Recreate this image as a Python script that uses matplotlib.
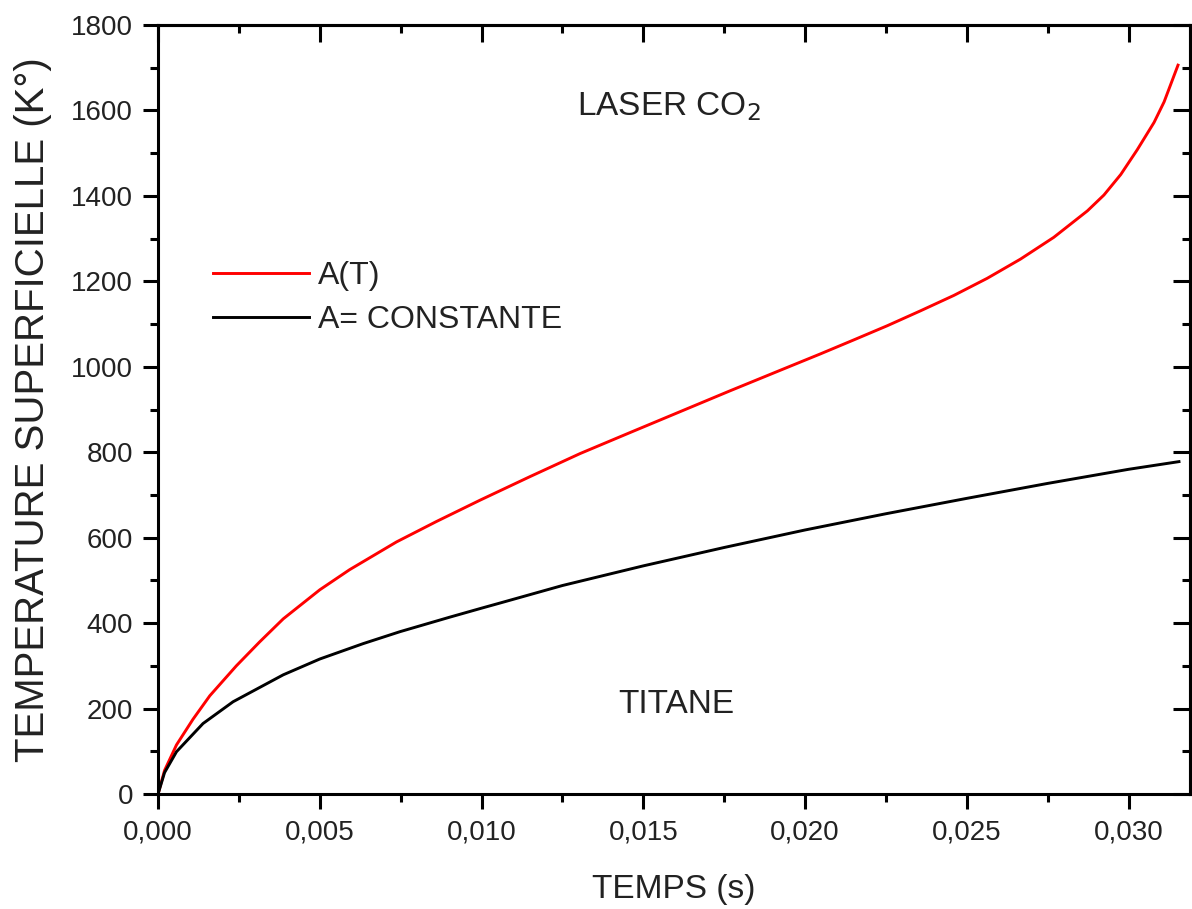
import numpy as np
import matplotlib
matplotlib.use('Agg')
from matplotlib import pyplot as plt
from matplotlib.ticker import MultipleLocator, FuncFormatter

# values
t_red = [0.0, 0.0002, 0.00057, 0.00108, 0.0016, 0.00242, 0.00314, 0.00387, 0.0050,
         0.00592, 0.00737, 0.00861, 0.00996, 0.0115, 0.01305, 0.01459, 0.01614,
         0.01769, 0.01924, 0.02047, 0.02151, 0.02254, 0.02357, 0.0246, 0.02563,
         0.02666, 0.02769, 0.02873, 0.02924, 0.02976, 0.03027, 0.03079, 0.0311, 0.03153]
T_red = [0, 55, 115, 175, 230, 300, 356, 410, 478,
         525, 590, 638, 688, 743, 797, 846, 895,
         944, 992, 1030, 1063, 1096, 1131, 1167, 1207,
         1252, 1303, 1365, 1402, 1450, 1508, 1572, 1620, 1706]

t_black = [0.0, 0.0002, 0.00057, 0.00139, 0.00232, 0.00387, 0.0050, 0.00634, 0.00748,
           0.00902, 0.010, 0.01057, 0.0125, 0.015, 0.0175, 0.020, 0.0225, 0.025,
           0.0275, 0.030, 0.03156]
T_black = [0, 50, 99, 165, 216, 279, 316, 352, 380,
           414, 435, 447, 488, 534, 577, 618, 656, 692,
           727, 760, 778]

plt.rcParams['font.family'] = ['Liberation Sans', 'DejaVu Sans']
txt = '#222222'

fig = plt.figure(figsize=(11.92, 9.09), dpi=100)
ax = fig.add_axes([0.1326, 0.1265, 0.8657, 0.846])

ax.plot(t_red, T_red, color='red', lw=2.1, label='A(T)')
ax.plot(t_black, T_black, color='black', lw=2.1, label='A= CONSTANTE')

ax.set_xlim(0, 0.0319)
ax.set_ylim(0, 1800)

ax.xaxis.set_major_locator(MultipleLocator(0.005))
ax.xaxis.set_minor_locator(MultipleLocator(0.0025))
ax.yaxis.set_major_locator(MultipleLocator(200))
ax.yaxis.set_minor_locator(MultipleLocator(100))
ax.xaxis.set_major_formatter(FuncFormatter(lambda v, p: ('%.3f' % v).replace('.', ',')))

for s in ax.spines.values():
    s.set_linewidth(2.2)
ax.tick_params(which='major', direction='out', length=11, width=2.2, labelsize=20,
               pad=7, labelcolor=txt)
ax.tick_params(which='minor', direction='out', length=6, width=2.2)

# mirrored ticks pointing inward on top and right
top = ax.secondary_xaxis('top')
top.xaxis.set_major_locator(MultipleLocator(0.005))
top.xaxis.set_minor_locator(MultipleLocator(0.0025))
top.tick_params(which='major', direction='in', length=12, width=2.2, labeltop=False)
top.tick_params(which='minor', direction='in', length=6, width=2.2)
right = ax.secondary_yaxis('right')
right.yaxis.set_major_locator(MultipleLocator(200))
right.yaxis.set_minor_locator(MultipleLocator(100))
right.tick_params(which='major', direction='in', length=12, width=2.2, labelright=False)
right.tick_params(which='minor', direction='in', length=6, width=2.2)
top.spines['top'].set_linewidth(2.2)
right.spines['right'].set_linewidth(2.2)

ax.set_xlabel('TEMPS (s)', fontsize=24, labelpad=21, color=txt)
ax.set_ylabel('TEMPERATURE SUPERFICIELLE (K°)', fontsize=29, labelpad=14, color=txt)

ax.text(0.0158, 1589, 'LASER CO$_2$', fontsize=24, ha='center', va='baseline', color=txt)
ax.text(0.01602, 190, 'TITANE', fontsize=24, ha='center', va='baseline', color=txt)

leg = ax.legend(loc='upper left', bbox_to_anchor=(0.053, 0.693), frameon=False, fontsize=23,
                handlelength=3.0, handletextpad=0.3, labelspacing=0.45, borderaxespad=0,
                borderpad=0)
for t in leg.get_texts():
    t.set_color(txt)

plt.savefig('out.png', dpi=100)
